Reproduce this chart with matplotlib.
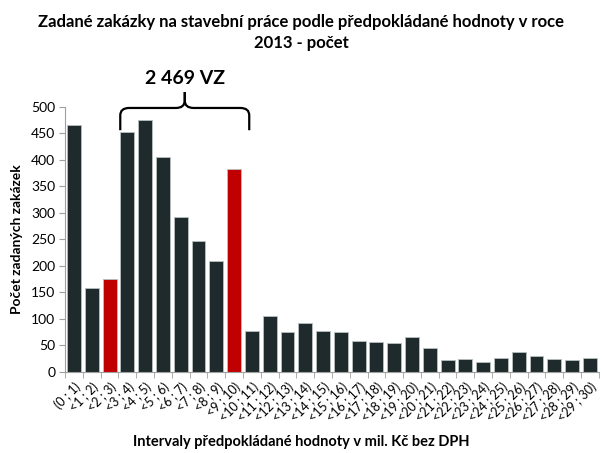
import numpy as np
import matplotlib.pyplot as plt
from matplotlib.path import Path
from matplotlib.patches import PathPatch

plt.rcParams['font.family'] = ['Lato', 'DejaVu Sans']

# data
labels = ['(0 ; 1)'] + ['<%d ; %d)' % (i, i + 1) for i in range(1, 30)]
values = [466, 159, 176, 452, 475, 406, 292, 247, 210, 382,
          78, 106, 76, 93, 77, 76, 59, 57, 54, 65,
          45, 22, 24, 18, 27, 37, 30, 24, 22, 26]
highlight = ['<2 ; 3)', '<9 ; 10)']
bracket_text = '2 469 VZ'

dark = '#1e2a2b'
red = '#c00000'
colors = [red if l in highlight else dark for l in labels]

fig = plt.figure(figsize=(6.03, 4.53), dpi=100)
ax = fig.add_axes([0.108, 0.179, 0.885, 0.585])

x = np.arange(len(values))
ax.bar(x, values, width=0.78, color=colors, edgecolor='#b8c0c0', linewidth=0.6)

ax.set_xlim(-0.5, len(values) - 0.5)
ax.set_ylim(0, 500)
ax.set_yticks(range(0, 501, 50))
ax.tick_params(axis='y', labelsize=10, length=4, color='#a0a0a0', pad=3)

ax.set_xticks(x)
ax.set_xticklabels(labels, rotation=45, ha='right', rotation_mode='anchor', fontsize=9)
ax.tick_params(axis='x', length=0, pad=6)
ax.set_xticks(np.arange(-0.5, len(values), 1), minor=True)
ax.tick_params(axis='x', which='minor', length=4, color='#a0a0a0')

for s in ['top', 'right']:
    ax.spines[s].set_visible(False)
for s in ['left', 'bottom']:
    ax.spines[s].set_color('#a0a0a0')

ax.set_ylabel('Počet zadaných zakázek', fontsize=10, fontweight='bold', labelpad=6)
fig.text(0.5, 0.015, 'Intervaly předpokládané hodnoty v mil. Kč bez DPH',
         ha='center', fontsize=10.5, fontweight='bold')
fig.suptitle('Zadané zakázky na stavební práce podle předpokládané hodnoty v roce\n2013 - počet',
             y=0.97, fontsize=12, fontweight='bold', linespacing=1.45)

# curly brace over bars <3;4) .. <9;10)
x0, x1 = 2.6, 9.85
xm = (x0 + x1) / 2
yb, yt, yp = 456, 498, 528
rx, ry = 0.5, 14
verts = [(x0, yb), (x0, yt - ry), (x0, yt), (x0 + rx, yt),
         (xm - rx, yt), (xm, yt), (xm, yt + ry), (xm, yp)]
codes = [Path.MOVETO, Path.LINETO, Path.CURVE3, Path.CURVE3,
         Path.LINETO, Path.CURVE3, Path.CURVE3, Path.LINETO]
left = Path(verts, codes)
right = Path([(2 * xm - vx, vy) for vx, vy in verts], codes)
for p in (left, right):
    ax.add_patch(PathPatch(p, fill=False, lw=1.6, color='black', clip_on=False))
ax.text(xm, 553, bracket_text, ha='center', va='center', fontsize=14,
        fontweight='bold', clip_on=False)

plt.savefig('out.png', dpi=100)
